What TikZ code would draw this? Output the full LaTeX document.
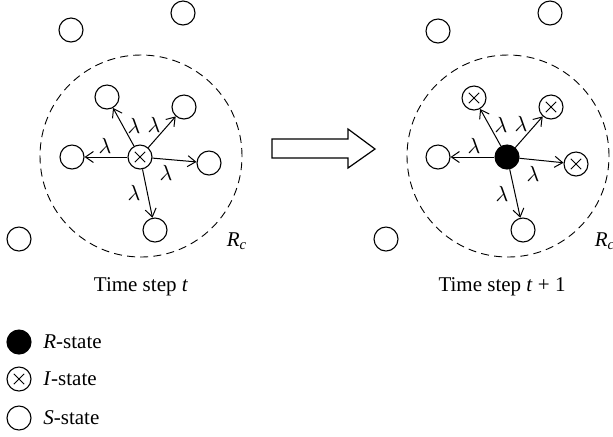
\documentclass[tikz,border=0pt]{standalone}
\usepackage{fontspec}
\setmainfont{Liberation Serif}
\usetikzlibrary{arrows.meta}
\begin{document}
\begin{tikzpicture}[x=0.5pt,y=-0.5pt,
  every node/.style={font=\fontsize{10.5}{12}\selectfont},
  snode/.style={circle,draw,line width=0.55pt,minimum size=12pt,inner sep=0pt},
  inode/.style={snode,path picture={\draw[line width=0.45pt]
     ([shift={(-2.6pt,-2.6pt)}]path picture bounding box.center) -- ([shift={(2.6pt,2.6pt)}]path picture bounding box.center)
     ([shift={(-2.6pt,2.6pt)}]path picture bounding box.center) -- ([shift={(2.6pt,-2.6pt)}]path picture bounding box.center);}},
  rnode/.style={snode,fill=black},
  rangecirc/.style={circle,draw,dashed,dash pattern=on 4pt off 2.6pt,line width=0.45pt,minimum size=101pt,inner sep=0pt},
  arr/.style={line width=0.5pt,-{Straight Barb[length=4pt,width=5.5pt,line width=0.5pt]}},
  lam/.style={inner sep=0pt,font=\fontsize{11}{12}\selectfont}]
\useasboundingbox (0,0) rectangle (613,436);
% ---------- left panel ----------
\node[rangecirc] (rcL) at (141,156) {};
\node[snode] (aL) at (71,30) {};
\node[snode] (bL) at (183,13) {};
\node[snode] (cL) at (19,239) {};
\node[inode] (oL) at (140,157) {};
\node[snode] (n1L) at (107,97) {};
\node[snode] (n2L) at (184,107) {};
\node[snode] (n3L) at (72,157) {};
\node[snode] (n4L) at (209,163) {};
\node[snode] (n5L) at (155,230) {};
\draw[arr] (oL) -- (n1L);
\draw[arr] (oL) -- (n2L);
\draw[arr] (oL) -- (n3L);
\draw[arr] (oL) -- (n4L);
\draw[arr] (oL) -- (n5L);
\node[lam] (l1L) at (134,126) {$\lambda$};
\node[lam] (l2L) at (154,125) {$\lambda$};
\node[lam] (l3L) at (105,146) {$\lambda$};
\node[lam] (l4L) at (166,173) {$\lambda$};
\node[lam] (l5L) at (134,193) {$\lambda$};
\node (rcLt) at (237,241) {\textit{R}\textsubscript{\textit{c}}};
\node (tL) at (141,287) {Time step \textit{t}};
% ---------- hollow arrow ----------
\draw[line width=0.6pt,line join=miter] (272,139) -- (348,139) -- (348,129) -- (375,149) -- (348,168) -- (348,158) -- (272,158) -- cycle;
% ---------- right panel ----------
\node[rangecirc] (rcR) at (508,156) {};
\node[snode] (aR) at (438,31) {};
\node[snode] (bR) at (550,13) {};
\node[snode] (cR) at (386,239) {};
\node[rnode] (oR) at (507,157) {};
\node[inode] (n1R) at (474,98) {};
\node[inode] (n2R) at (551,107) {};
\node[snode] (n3R) at (438,157) {};
\node[inode] (n4R) at (576,164) {};
\node[snode] (n5R) at (523,230) {};
\draw[arr] (oR) -- (n1R);
\draw[arr] (oR) -- (n2R);
\draw[arr] (oR) -- (n3R);
\draw[arr] (oR) -- (n4R);
\draw[arr] (oR) -- (n5R);
\node[lam] (l1R) at (501,125) {$\lambda$};
\node[lam] (l2R) at (521,124) {$\lambda$};
\node[lam] (l3R) at (474,146) {$\lambda$};
\node[lam] (l4R) at (533,174) {$\lambda$};
\node[lam] (l5R) at (502,194) {$\lambda$};
\node (rcRt) at (605,241) {\textit{R}\textsubscript{\textit{c}}};
\node (tR) at (502,287) {Time step \textit{t} + 1};
% ---------- legend ----------
\node[rnode] (legR) at (19,342) {};
\node[inode] (legI) at (19,379) {};
\node[snode] (legS) at (19,418) {};
\node[anchor=west,inner sep=0pt] (txR) at (43,342) {\textit{R}-state};
\node[anchor=west,inner sep=0pt] (txI) at (43,379) {\textit{I}-state};
\node[anchor=west,inner sep=0pt] (txS) at (43,418) {\textit{S}-state};
\end{tikzpicture}
\end{document}
